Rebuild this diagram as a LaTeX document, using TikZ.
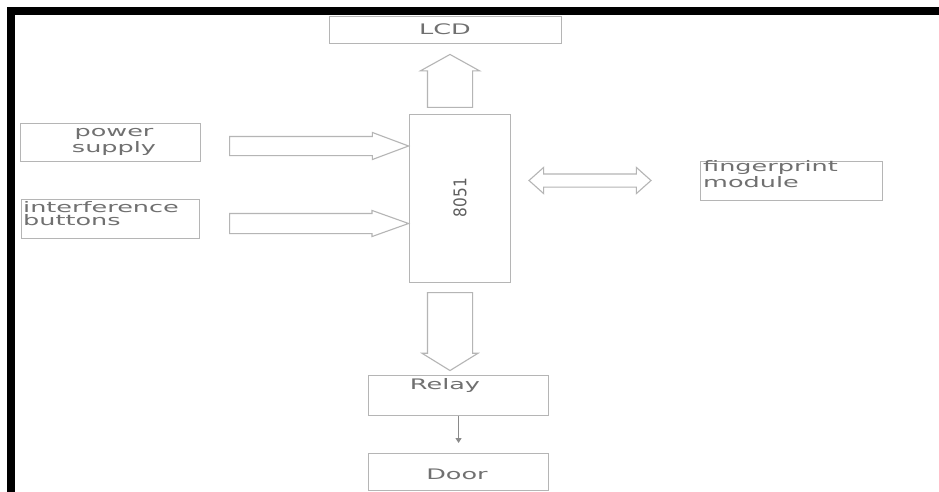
\documentclass[tikz,border=0pt]{standalone}
\usepackage{fontspec}
\setmainfont{DejaVu Sans}[FakeStretch=1.76]
\newfontfamily\digitfont{DejaVu Sans}
\usetikzlibrary{shapes.arrows,arrows.meta}
\definecolor{edgegray}{HTML}{B5B5B5}
\definecolor{textgray}{HTML}{707070}
\definecolor{tipgray}{HTML}{8A8A8A}
\begin{document}
\begin{tikzpicture}[x=1pt,y=-1pt,
  box/.style={draw=edgegray, line width=1.1pt, rectangle, inner sep=0pt, anchor=north west},
  lbl/.style={text=textgray, inner sep=0pt, font=\fontsize{14.5}{16}\selectfont},
  blockarrow/.style={single arrow, draw=edgegray, line width=1.1pt, inner xsep=0pt, anchor=tail},
  twoway/.style={double arrow, draw=edgegray, line width=1.1pt, inner xsep=0pt},
]
\useasboundingbox (0,0) rectangle (939,492);
\fill[white] (0,0) rectangle (939,492);
% black frame along the top and left edges
\fill[black] (7,7) rectangle (939,15);
\fill[black] (7,7) rectangle (15,492);

% blocks
\node[box, minimum width=232pt, minimum height=27pt] (lcd)   at (329,16)  {};
\node[box, minimum width=101pt, minimum height=168pt] (mcu)  at (409,114) {};
\node[box, minimum width=180pt, minimum height=38pt] (ps)    at (20,123)  {};
\node[box, minimum width=178pt, minimum height=39pt] (ib)    at (21,199)  {};
\node[box, minimum width=182pt, minimum height=39pt] (fp)    at (700,161) {};
\node[box, minimum width=180pt, minimum height=40pt] (relay) at (368,375) {};
\node[box, minimum width=180pt, minimum height=37pt] (door)  at (368,453) {};

% labels (multi-line labels are anchored on the baseline of their last line)
\node[lbl, anchor=base] (lcdtext) at (445,35) {LCD};
\node[lbl, anchor=base, align=center] (pstext) at (114,152) {power\\supply};
\node[lbl, anchor=base west, align=left, font=\fontsize{14.5}{13}\selectfont] (ibtext) at (23,225) {interference\\buttons};
\node[lbl, anchor=base west, align=left, font=\fontsize{14.5}{14}\selectfont] (fptext) at (703,187) {fingerprint\\module};
\node[lbl, anchor=base] (relaytext) at (445,389) {Relay};
\node[lbl, anchor=base] (doortext) at (457,479) {Door};
\node[text=textgray!85!black, inner sep=0pt, rotate=90] (mcutext) at (460,197.5)
  {\resizebox{39pt}{13pt}{\digitfont 8051}};

% hollow block arrows (inner ysep = half the shaft width)
\node[blockarrow, inner ysep=9pt, minimum height=179pt,
      single arrow head extend=4pt, single arrow tip angle=41] (psarrow) at (229,146) {};
\node[blockarrow, inner ysep=9.5pt, minimum height=179pt,
      single arrow head extend=3pt, single arrow tip angle=39.3] (ibarrow) at (229,223.5) {};
\node[blockarrow, rotate=90, inner ysep=22pt, minimum height=53pt,
      single arrow head extend=7pt, single arrow tip angle=122] (lcdarrow) at (450,108) {};
\node[blockarrow, rotate=-90, inner ysep=22pt, minimum height=78pt,
      single arrow head extend=5.5pt, single arrow tip angle=116.6] (relayarrow) at (450,292) {};
\node[twoway, inner ysep=6pt, minimum height=122pt,
      double arrow head extend=6.5pt, double arrow tip angle=83.5] (fparrow) at (590,180.5) {};

% relay drives the door
\draw[draw=tipgray, line width=1pt, shorten >=10pt,
      -{Triangle[width=6pt,length=5pt]}] (relay.south) -- (door.north);
\end{tikzpicture}
\end{document}
